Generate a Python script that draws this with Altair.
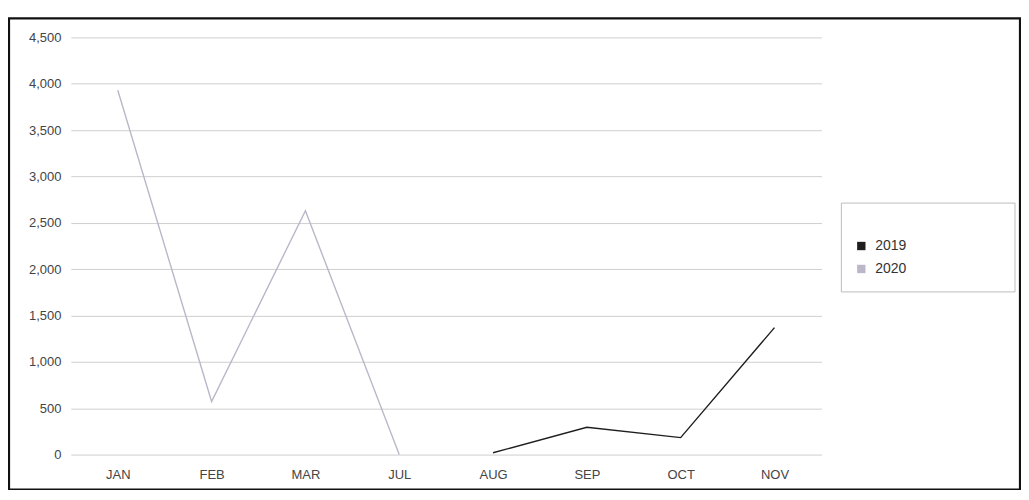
import altair as alt
import pandas as pd

months = ["JAN", "FEB", "MAR", "JUL", "AUG", "SEP", "OCT", "NOV"]
series_2019 = [None, None, None, None, 20, 295, 183, 1370]
series_2020 = [3930, 572, 2630, 0, None, None, None, None]
years = ["2019", "2020"]
colors = ["#1e1e1e", "#bcb6c9"]
y_ticks = [0, 500, 1000, 1500, 2000, 2500, 3000, 3500, 4000, 4500]

rows = []
for m, a, b in zip(months, series_2019, series_2020):
    if a is not None:
        rows.append({"month": m, "year": "2019", "value": a})
    if b is not None:
        rows.append({"month": m, "year": "2020", "value": b})
df = pd.DataFrame(rows)

FONT = "Liberation Sans"

x_enc = alt.X(
    "month:N", sort=months,
    scale=alt.Scale(type="point", padding=0.5, domain=months),
    axis=alt.Axis(title=None, labelAngle=0, ticks=False, domain=False, grid=False,
                  labelPadding=14, labelFont=FONT, labelFontSize=13, labelColor="#444444"),
)
y_enc = alt.Y(
    "value:Q",
    scale=alt.Scale(domain=[0, 4500], nice=False),
    axis=alt.Axis(title=None, values=y_ticks, format=",.0f", ticks=False, domain=False,
                  labelPadding=10, labelFont=FONT, labelFontSize=13, labelColor="#444444",
                  gridColor="#cfcfcf", gridWidth=1),
)

color_enc = alt.Color(
    "year:N", scale=alt.Scale(domain=years, range=colors),
    legend=alt.Legend(title=None, orient="none", legendX=785, legendY=202,
                      symbolType="square", symbolSize=70, symbolStrokeWidth=0,
                      labelFont=FONT, labelFontSize=14, labelColor="#333333",
                      labelOffset=7, rowPadding=9, padding=0),
)

base = alt.Chart(df)

legend_layer = base.mark_square(size=0, filled=True, opacity=1).encode(
    x=x_enc, y=y_enc, color=color_enc,
)

lines = base.mark_line(strokeWidth=1.4).encode(
    x=x_enc, y=y_enc, color=color_enc, detail="year:N",
)

one = pd.DataFrame({"k": [0]})
frame = alt.Chart(one).mark_rect(fill="transparent", stroke="#111111", strokeWidth=2.2).encode(
    x=alt.value(-62), x2=alt.value(951), y=alt.value(-19), y2=alt.value(453)
)
legend_box = alt.Chart(one).mark_rect(fill="white", stroke="#bdbdbd", strokeWidth=1).encode(
    x=alt.value(772), x2=alt.value(946), y=alt.value(166), y2=alt.value(255)
)

chart = alt.layer(legend_box, legend_layer, lines, frame).properties(
    width=752, height=418,
    background="white",
    autosize=alt.AutoSizeParams(type="none"),
    padding={"left": 63, "top": 29, "right": 200, "bottom": 35},
).configure_view(strokeWidth=0, stroke="transparent")

chart.save("out.html", embed_options={"renderer": "svg", "actions": False})
